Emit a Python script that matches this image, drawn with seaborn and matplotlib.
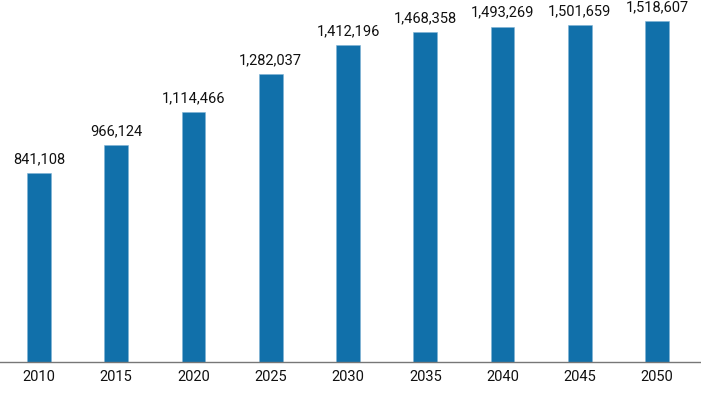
import matplotlib
matplotlib.use("Agg")
import matplotlib.pyplot as plt
import seaborn as sns
import pandas as pd

years = ["2010", "2015", "2020", "2025", "2030", "2035", "2040", "2045", "2050"]
values = [841108, 966124, 1114466, 1282037, 1412196, 1468358, 1493269, 1501659, 1518607]

df = pd.DataFrame({"year": years, "value": values})

sns.set_style("white")
plt.rcParams['font.family'] = ['Roboto', 'DejaVu Sans']

fig = plt.figure(figsize=(7.01, 4.03), dpi=100)
ax = fig.add_axes([0, 41 / 403, 1, 362 / 403])

sns.barplot(data=df, x="year", y="value", color="#1170aa", saturation=1,
            width=0.31, edgecolor="#7fb3d5", linewidth=0.4, ax=ax)

for i, v in enumerate(values):
    ax.annotate(f"{v:,}", (i, v), xytext=(0, 5), textcoords="offset points",
                ha="center", va="bottom", fontsize=10.5, color="#111111")

ax.set_xlim(-39 / 77.25, (701 - 39) / 77.25)
ax.set_ylim(0, 1518607 * 362 / 341)
ax.set_xlabel("")
ax.set_ylabel("")
ax.set_yticks([])
ax.tick_params(axis="x", length=0, labelsize=10.5, labelcolor="#111111", pad=6)
for s in ["top", "right", "left"]:
    ax.spines[s].set_visible(False)
ax.spines["bottom"].set_color("#777777")
ax.spines["bottom"].set_linewidth(1)

fig.savefig("out.png", dpi=100)
